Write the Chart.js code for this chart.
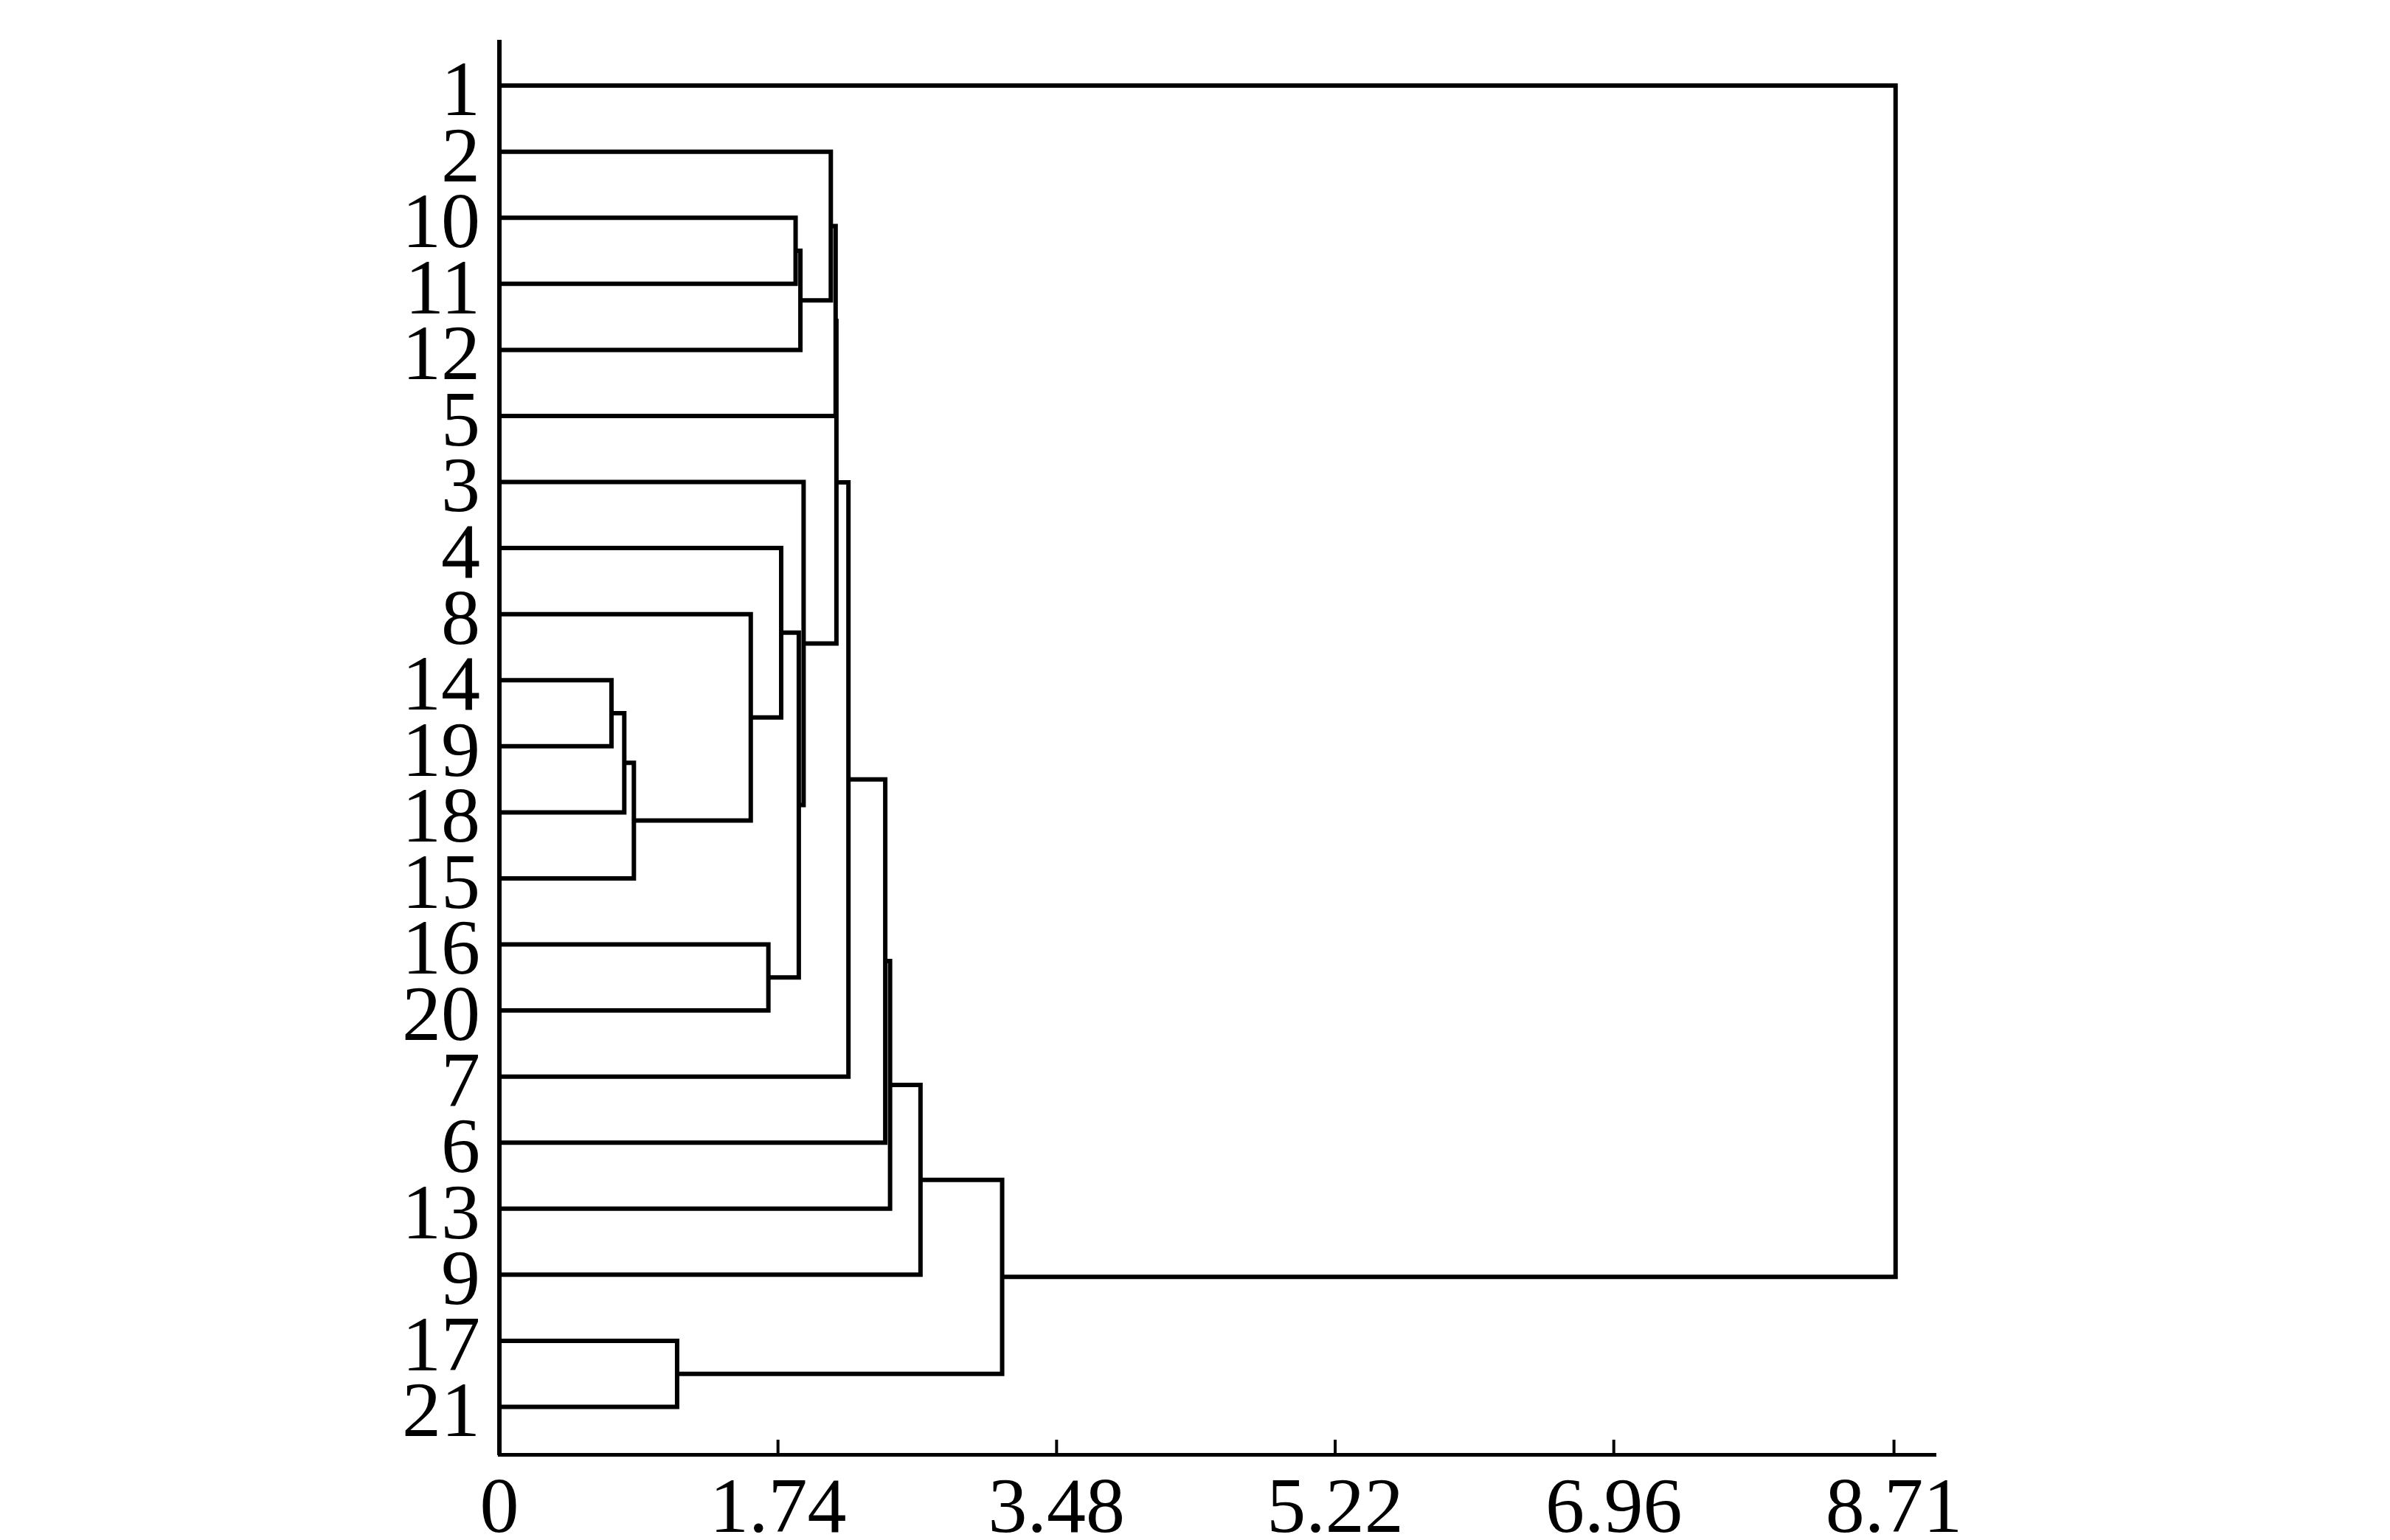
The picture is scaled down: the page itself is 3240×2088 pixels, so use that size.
<!DOCTYPE html>
<html>
<head>
<meta charset="utf-8">
<script src="https://cdn.jsdelivr.net/npm/chart.js@4.4.1/dist/chart.umd.min.js"></script>
<style>
html, body { margin: 0; padding: 0; background: #fff; }
canvas { display: block; }
</style>
</head>
<body>
<canvas id="dendro" width="3240" height="2088" style="width:3240px;height:2088px"></canvas>
<script>
// leaf order, top to bottom
const leafLabels = ['1', '2', '10', '11', '12', '5', '3', '4', '8', '14', '19', '18', '15', '16', '20', '7', '6', '13', '9', '17', '21'];

// merges: string = leaf label, number = index of an earlier merge
const mergeLeft   = ['14', 0, 1, '17', '8', '16', '4', '10', 6, 7, '3', '2', 11, 12, 13, 14, 15, 16, 17, '1'];
const mergeRight  = ['19', '18', '15', '21', 2, '20', 4, '11', 5, '12', 8, 9, '5', 10, '7', '6', '13', '9', 3, 18];
const mergeHeight = [0.70, 0.78, 0.84, 1.11, 1.57, 1.68, 1.76, 1.85, 1.87, 1.88, 1.90, 2.07, 2.10, 2.105, 2.18, 2.41, 2.44, 2.63, 3.14, 8.72];

// x axis ticks
const xTickValues = [0, 1.74, 3.48, 5.22, 6.96, 8.71];
const xTickLabels = ['0', '1.74', '3.48', '5.22', '6.96', '8.71'];

const FONT = '"Liberation Serif", "Times New Roman", serif';

// node position: x = merge height (0 for leaf), y = leaf slot or mean of children
const nodes = [];
function resolve(ref) {
    if (typeof ref === 'string') return { x: 0, y: leafLabels.indexOf(ref) };
    return nodes[ref];
}
const datasets = [];
mergeHeight.forEach((h, i) => {
    const a = resolve(mergeLeft[i]);
    const b = resolve(mergeRight[i]);
    nodes.push({ x: h, y: (a.y + b.y) / 2 });
    datasets.push({
        data: [
            { x: a.x, y: a.y },
            { x: h, y: a.y },
            { x: h, y: b.y },
            { x: b.x, y: b.y }
        ]
    });
});

// tick marks pointing into the plot
const innerTicks = {
    id: 'innerTicks',
    afterDraw(chart) {
        const sx = chart.scales.x;
        const ctx = chart.ctx;
        ctx.save();
        ctx.strokeStyle = '#000';
        ctx.lineWidth = 4;
        sx.ticks.forEach(t => {
            if (t.value === 0) return;
            const px = sx.getPixelForValue(t.value);
            ctx.beginPath();
            ctx.moveTo(px, sx.top);
            ctx.lineTo(px, sx.top - 20);
            ctx.stroke();
        });
        ctx.restore();
    }
};

new Chart(document.getElementById('dendro').getContext('2d'), {
    type: 'line',
    data: { datasets },
    plugins: [innerTicks],
    options: {
        responsive: false,
        devicePixelRatio: 1,
        animation: false,
        layout: { padding: { top: 57, right: 616, bottom: 0, left: 0 } },
        plugins: {
            legend: { display: false },
            tooltip: { enabled: false }
        },
        elements: {
            line: { borderColor: '#000', borderWidth: 6, tension: 0, borderCapStyle: 'butt', borderJoinStyle: 'miter', fill: false },
            point: { radius: 0, hoverRadius: 0 }
        },
        scales: {
            x: {
                type: 'linear',
                position: 'bottom',
                min: 0,
                max: 8.97,
                afterBuildTicks: s => { s.ticks = xTickValues.map(v => ({ value: v })); },
                afterFit: s => { s.height = 116; },
                ticks: {
                    autoSkip: false,
                    maxRotation: 0,
                    padding: 24,
                    color: '#000',
                    font: { family: FONT, size: 106, lineHeight: 1 },
                    callback: (v, i) => xTickLabels[i]
                },
                grid: { display: false, drawTicks: false },
                border: { display: true, color: '#000', width: 5 }
            },
            y: {
                type: 'linear',
                reverse: true,
                min: -0.66,
                max: 20.72,
                afterBuildTicks: s => { s.ticks = leafLabels.map((_, i) => ({ value: i })); },
                afterFit: s => {
                    s.width = 677;
                    s.paddingTop = 0;
                    s.paddingBottom = 0;
                },
                ticks: {
                    autoSkip: false,
                    padding: 26,
                    labelOffset: 12,
                    color: '#000',
                    font: { family: FONT, size: 106, lineHeight: 1 },
                    callback: v => leafLabels[v]
                },
                grid: { display: false, drawTicks: false },
                border: { display: true, color: '#000', width: 6 }
            }
        }
    }
});
</script>
</body>
</html>
